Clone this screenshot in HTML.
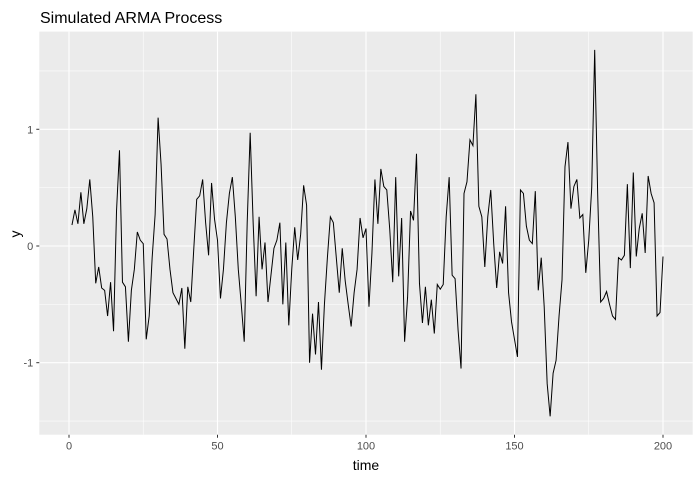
<!DOCTYPE html>
<html><head><meta charset="utf-8"><style>
body{margin:0;background:#fff;}
svg{display:block;font-family:"Liberation Sans",sans-serif;}
</style></head><body>
<svg id="chart" width="700" height="480">
<text x="40" y="23" font-size="16" fill="#000">Simulated ARMA Process</text>
<rect x="39.3" y="31.6" width="653.4" height="403.1" fill="#ebebeb"/>
<g id="grid"></g>
<g id="ticks"></g>
<path id="line" fill="none" stroke="#000" stroke-width="1"/>
<text x="366" y="470" font-size="14" text-anchor="middle" fill="#000">time</text>
<text transform="translate(20,234) rotate(-90)" font-size="14" text-anchor="middle" fill="#000">y</text>
</svg>
<script>
const yValues=[0.18,0.31,0.19,0.46,0.19,0.32,0.57,0.25,-0.32,-0.18,
-0.36,-0.38,-0.6,-0.31,-0.73,0.3,0.82,-0.31,-0.35,-0.82,
-0.38,-0.2,0.12,0.05,0.02,-0.8,-0.6,-0.1,0.27,1.1,
0.7,0.1,0.06,-0.2,-0.4,-0.45,-0.5,-0.36,-0.88,-0.35,
-0.48,-0.03,0.4,0.43,0.57,0.2,-0.08,0.54,0.23,0.05,
-0.45,-0.2,0.2,0.45,0.59,0.25,-0.2,-0.5,-0.82,0.2,
0.97,0.2,-0.43,0.25,-0.2,0.03,-0.48,-0.25,-0.02,0.05,
0.2,-0.5,0.03,-0.68,-0.2,0.16,-0.12,0.1,0.52,0.35,
-1.0,-0.58,-0.93,-0.48,-1.06,-0.5,-0.1,0.25,0.2,-0.1,
-0.4,-0.02,-0.3,-0.5,-0.69,-0.4,-0.2,0.24,0.07,0.15,
-0.52,-0.06,0.57,0.19,0.66,0.51,0.48,0.14,-0.31,0.59,
-0.26,0.24,-0.82,-0.44,0.3,0.22,0.79,-0.32,-0.66,-0.35,
-0.68,-0.46,-0.75,-0.33,-0.37,-0.33,0.25,0.59,-0.25,-0.28,
-0.72,-1.05,0.45,0.55,0.91,0.86,1.3,0.34,0.25,-0.18,
0.25,0.48,0.02,-0.36,-0.05,-0.15,0.34,-0.4,-0.65,-0.8,
-0.95,0.48,0.45,0.17,0.05,0.02,0.47,-0.38,-0.1,-0.52,
-1.18,-1.46,-1.09,-0.98,-0.6,-0.29,0.68,0.89,0.32,0.51,
0.57,0.24,0.27,-0.23,0.05,0.5,1.68,0.45,-0.48,-0.45,
-0.39,-0.5,-0.6,-0.63,-0.1,-0.12,-0.08,0.53,-0.19,0.63,
-0.09,0.15,0.28,-0.06,0.6,0.45,0.37,-0.6,-0.57,-0.09];
const xTicks=[0,50,100,150,200];
const xMinor=[25,75,125,175];
const yTicks=[-1,0,1];
const yMinor=[-1.5,-0.5,0.5,1.5];
const X0=39.3,X1=692.7,Y0=434.7,Y1=31.6;
const xMin=-10,xMax=210,yMin=-1.617,yMax=1.837;
const sx=v=>X0+(v-xMin)/(xMax-xMin)*(X1-X0);
const sy=v=>Y0-(v-yMin)/(yMax-yMin)*(Y0-Y1);
const NS='http://www.w3.org/2000/svg';
const grid=document.getElementById('grid'),ticks=document.getElementById('ticks');
function ln(x1,y1,x2,y2,w,c,p){const l=document.createElementNS(NS,'line');l.setAttribute('x1',x1);l.setAttribute('y1',y1);l.setAttribute('x2',x2);l.setAttribute('y2',y2);l.setAttribute('stroke',c);l.setAttribute('stroke-width',w);p.appendChild(l);return l;}
xMinor.forEach(v=>{const l=ln(sx(v),Y1,sx(v),Y0,0.55,'#fff',grid);

});
yMinor.forEach(v=>{const l=ln(X0,sy(v),X1,sy(v),0.55,'#fff',grid);

});
xTicks.forEach(v=>{const l=ln(sx(v),Y1,sx(v),Y0,1.1,'#fff',grid);


const t=ln(sx(v),Y0,sx(v),Y0+3,1,'#333',ticks);


const tx=document.createElementNS(NS,'text');tx.setAttribute('x',sx(v));tx.setAttribute('y',Y0+15);tx.setAttribute('text-anchor','middle');tx.setAttribute('font-size','11');tx.setAttribute('fill','#4d4d4d');tx.textContent=v;


ticks.appendChild(tx);});
yTicks.forEach(v=>{const l=ln(X0,sy(v),X1,sy(v),1.1,'#fff',grid);


const t=ln(X0-3,sy(v),X0,sy(v),1,'#333',ticks);


const tx=document.createElementNS(NS,'text');tx.setAttribute('x',X0-6);tx.setAttribute('y',sy(v)+4);tx.setAttribute('text-anchor','end');tx.setAttribute('font-size','11');tx.setAttribute('fill','#4d4d4d');tx.textContent=v;


ticks.appendChild(tx);});
document.getElementById('line').setAttribute('d',yValues.map((v,i)=>(i?'L':'M')+sx(i+1).toFixed(2)+','+sy(v).toFixed(2)).join(''));
</script>
</body></html>
